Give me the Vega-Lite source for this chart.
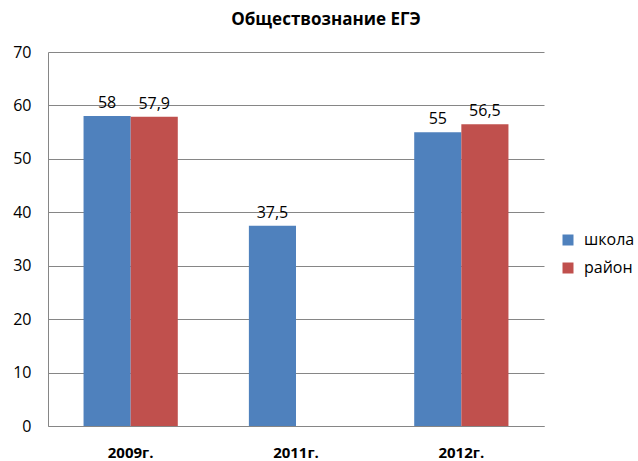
{
  "$schema": "https://vega.github.io/schema/vega-lite/v6.json",
  "width": 496,
  "height": 374,
  "autosize": {"type": "none"},
  "padding": {"left": 48, "top": 52, "right": 94, "bottom": 35},
  "background": "white",
  "title": {
    "text": "Обществознание ЕГЭ",
    "font": "Open Sans",
    "fontSize": 17,
    "fontWeight": "bold",
    "color": "#000000",
    "anchor": "middle",
    "dx": 30,
    "offset": 15
  },
  "config": {
    "view": {"stroke": null},
    "locale": {
      "number": {"decimal": ",", "thousands": " ", "grouping": [3], "currency": ["", " ₽"]}
    }
  },
  "data": {
    "values": [
      {"year": "2009г.", "series": "школа", "value": 58},
      {"year": "2009г.", "series": "район", "value": 57.9},
      {"year": "2011г.", "series": "школа", "value": 37.5},
      {"year": "2012г.", "series": "школа", "value": 55},
      {"year": "2012г.", "series": "район", "value": 56.5}
    ]
  },
  "encoding": {
    "x": {
      "field": "year",
      "type": "nominal",
      "sort": ["2009г.", "2011г.", "2012г."],
      "scale": {"paddingInner": 0.43, "paddingOuter": 0.215},
      "axis": {
        "title": null,
        "labelAngle": 0,
        "labelFont": "Open Sans",
        "labelFontSize": 15,
        "labelFontWeight": "bold",
        "labelColor": "#000000",
        "labelPadding": 19,
        "ticks": false,
        "domainColor": "#868686",
        "grid": false
      }
    },
    "xOffset": {
      "field": "series",
      "type": "nominal",
      "sort": ["школа", "район"]
    },
    "y": {
      "field": "value",
      "type": "quantitative",
      "scale": {"domain": [0, 70], "nice": false},
      "axis": {
        "title": null,
        "values": [0, 10, 20, 30, 40, 50, 60, 70],
        "labelFont": "Open Sans",
        "labelFontSize": 16,
        "labelColor": "#000000",
        "labelPadding": 17,
        "ticks": false,
        "domainColor": "#868686",
        "gridColor": "#868686",
        "gridWidth": 1
      }
    }
  },
  "layer": [
    {
      "mark": {"type": "bar"},
      "encoding": {
        "color": {
          "field": "series",
          "type": "nominal",
          "sort": ["школа", "район"],
          "scale": {"domain": ["школа", "район"], "range": ["#4F81BD", "#C0504D"]},
          "legend": {
            "title": null,
            "orient": "none",
            "legendX": 512,
            "legendY": 180,
            "symbolType": "square",
            "symbolSize": 121,
            "symbolStrokeWidth": 0,
            "symbolOpacity": 1,
            "labelFont": "Open Sans",
            "labelFontSize": 16,
            "labelColor": "#000000",
            "labelOffset": 8,
            "rowPadding": 12
          }
        }
      }
    },
    {
      "mark": {
        "type": "text",
        "baseline": "alphabetic",
        "dy": -8,
        "font": "Open Sans",
        "fontSize": 16,
        "color": "#000000"
      },
      "encoding": {
        "text": {"field": "value", "type": "quantitative", "format": ".3~g"}
      }
    }
  ]
}
